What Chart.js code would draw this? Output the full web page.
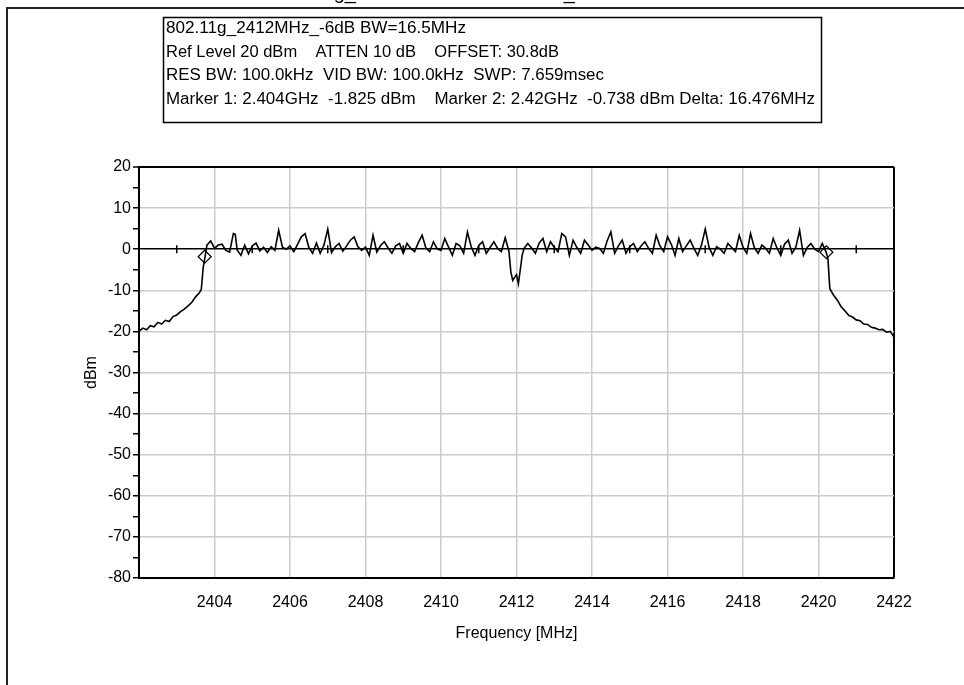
<!DOCTYPE html>
<html>
<head>
<meta charset="utf-8">
<script src="https://cdn.jsdelivr.net/npm/chart.js@4.4.0/dist/chart.umd.min.js"></script>
<style>
  body { margin: 0; background: #fff; }
  #wrap { width: 964px; height: 685px; }
</style>
</head>
<body>
<div id="wrap"><canvas id="myChart" width="964" height="685"></canvas></div>
<script>
// spectrum trace (MHz / dBm)
var freqMHz = [
  2402.0, 2402.1, 2402.2, 2402.3, 2402.4, 2402.5, 2402.6, 2402.7, 2402.8, 2402.9,
  2403.0, 2403.1, 2403.2, 2403.3, 2403.4, 2403.5, 2403.6, 2403.65, 2403.7, 2403.75, 2403.8, 2403.9,
  2404.0, 2404.1, 2404.2, 2404.3, 2404.4, 2404.5, 2404.55, 2404.6, 2404.7, 2404.8, 2404.9,
  2405.0, 2405.1, 2405.2, 2405.3, 2405.4, 2405.5, 2405.6, 2405.7, 2405.8, 2405.9,
  2406.0, 2406.1, 2406.2, 2406.3, 2406.4, 2406.5, 2406.6, 2406.7, 2406.8, 2406.9,
  2407.0, 2407.1, 2407.2, 2407.3, 2407.4, 2407.5, 2407.6, 2407.7, 2407.8, 2407.9,
  2408.0, 2408.1, 2408.2, 2408.3, 2408.4, 2408.5, 2408.6, 2408.7, 2408.8, 2408.9,
  2409.0, 2409.1, 2409.2, 2409.3, 2409.4, 2409.5, 2409.6, 2409.7, 2409.8, 2409.9,
  2410.0, 2410.1, 2410.2, 2410.3, 2410.4, 2410.5, 2410.6, 2410.7, 2410.8, 2410.9,
  2411.0, 2411.1, 2411.2, 2411.3, 2411.4, 2411.5, 2411.6, 2411.7, 2411.8, 2411.85, 2411.9,
  2412.0, 2412.05, 2412.1, 2412.15, 2412.2, 2412.3, 2412.4, 2412.5, 2412.6, 2412.7, 2412.8, 2412.9,
  2413.0, 2413.1, 2413.2, 2413.3, 2413.4, 2413.5, 2413.6, 2413.7, 2413.8, 2413.9,
  2414.0, 2414.1, 2414.2, 2414.3, 2414.4, 2414.5, 2414.6, 2414.7, 2414.8, 2414.9,
  2415.0, 2415.1, 2415.2, 2415.3, 2415.4, 2415.5, 2415.6, 2415.7, 2415.8, 2415.9,
  2416.0, 2416.1, 2416.2, 2416.3, 2416.4, 2416.5, 2416.6, 2416.7, 2416.8, 2416.9,
  2417.0, 2417.1, 2417.2, 2417.3, 2417.4, 2417.5, 2417.6, 2417.7, 2417.8, 2417.9,
  2418.0, 2418.1, 2418.2, 2418.3, 2418.4, 2418.5, 2418.6, 2418.7, 2418.8, 2418.9,
  2419.0, 2419.1, 2419.2, 2419.3, 2419.4, 2419.5, 2419.6, 2419.7, 2419.8, 2419.9,
  2420.0, 2420.1, 2420.2, 2420.25, 2420.3, 2420.4, 2420.5, 2420.6, 2420.7, 2420.8, 2420.9,
  2421.0, 2421.1, 2421.2, 2421.3, 2421.4, 2421.5, 2421.6, 2421.7, 2421.8, 2421.9,
  2422.0
];
var levelDbm = [
  -20.0, -19.2, -19.6, -18.6, -18.9, -17.8, -18.2, -17.3, -17.6, -16.4,
  -16.0, -15.2, -14.6, -13.8, -12.9, -11.6, -10.6, -9.8, -4.5, -1.8, 1.0, 2.0,
  0.2, 1.0, 1.2, -0.3, -0.7, 3.8, 3.6, -0.2, -1.5, 1.0, -1.1,
  0.8, 1.5, -0.4, 0.5, -0.8, 0.6, -0.3, 4.6, 0.5, 0.0,
  0.8, -0.6, 1.2, 3.0, 3.8, 0.4, -1.0, 1.5, -1.0, 1.0,
  4.9, -0.8, 0.6, 1.4, -0.5, 0.8, 2.2, 3.0, 0.6, -0.3,
  0.5, -1.5, 3.4, -0.7, 0.9, 1.8, 0.3, -1.0, 0.8, 1.4,
  -1.0, 1.4, 0.2, -0.6, 1.6, 3.4, 0.3, -0.6, 1.8, 0.1,
  -0.3, 2.6, 0.5, -1.5, 1.4, 0.8, -1.0, 4.2, 0.6, -1.5,
  0.9, 1.8, -1.0, 0.4, 1.8, 0.2, -0.6, 2.8, -0.5, -5.5, -7.6,
  -6.2, -8.4, -5.0, -1.5, 0.2, 1.4, 0.3, -1.0, 1.5, 2.6, -0.6, 1.8,
  0.5, -0.6, 3.8, 3.0, -1.5, 2.2, 0.4, -1.0, 2.2, 1.0,
  -0.3, 0.5, 0.2, -1.0, 2.0, 4.2, -1.0, 0.8, 2.2, -1.0,
  0.6, 1.4, -0.6, 0.8, 1.8, 0.2, -1.0, 3.4, 0.8, -0.6,
  3.0, 1.2, -1.5, 2.6, -0.6, 0.8, 2.2, 0.2, -1.5, 1.0,
  4.9, 0.5, -1.5, 0.6, 0.0, -1.0, 1.4, 0.4, -0.6, 3.4,
  0.5, -1.0, 3.8, 0.4, -1.0, 1.0, 0.2, -1.0, 2.6, 0.3,
  -1.5, 1.2, 2.2, -1.0, 0.5, 4.6, -1.5, 0.4, 1.4, 0.0,
  -0.6, 1.4, -0.7, -2.3, -9.6, -11.2, -12.4, -14.0, -15.0, -16.1, -16.5,
  -17.2, -17.4, -18.2, -18.3, -19.0, -19.2, -19.6, -19.5, -20.2, -20.0,
  -21.4
];

// the two -6 dB markers
var markerFreq = [2403.74, 2420.21];
var markerLevel = [-1.825, -0.738];

// axis
var xMin = 2402, xMax = 2422, xStep = 2;
var yMin = -80, yMax = 20, yStep = 5;

// header box text, one string per line
var infoLines = [
  '802.11g_2412MHz_-6dB BW=16.5MHz',
  'Ref Level 20 dBm    ATTEN 10 dB    OFFSET: 30.8dB',
  'RES BW: 100.0kHz  VID BW: 100.0kHz  SWP: 7.659msec',
  'Marker 1: 2.404GHz  -1.825 dBm    Marker 2: 2.42GHz  -0.738 dBm Delta: 16.476MHz'
];
var infoY = [29, 53, 76, 100];
var infoW = [300, 393, 438, 649];
var pageTitle = '802.11g_Low Channel 2412MHz_6dB Bandwidth';

var FONT = 'Arial, "Liberation Sans", sans-serif';

var tracePts = freqMHz.map(function (f, i) { return { x: f, y: levelDbm[i] }; });
var markerPts = markerFreq.map(function (f, i) { return { x: f, y: markerLevel[i] }; });

var framePlugin = {
  id: 'frame',
  beforeDraw: function (chart) {
    var ctx = chart.ctx;
    ctx.save();
    ctx.fillStyle = '#fff';
    ctx.fillRect(0, 0, chart.width, chart.height);

    // title, mostly cut off by the top edge
    ctx.fillStyle = '#000';
    ctx.font = '20px ' + FONT;
    ctx.textBaseline = 'alphabetic';
    ctx.fillText(pageTitle, 274, -1);

    // outer frame
    ctx.strokeStyle = '#222';
    ctx.lineWidth = 2;
    ctx.beginPath();
    ctx.moveTo(7, 685);
    ctx.lineTo(7, 8);
    ctx.lineTo(964, 8);
    ctx.stroke();

    // info box
    ctx.lineWidth = 1.5;
    ctx.strokeStyle = '#000';
    ctx.strokeRect(163.5, 17.5, 658, 105);
    ctx.font = '16px ' + FONT;
    ctx.textBaseline = 'middle';
    infoLines.forEach(function (txt, i) {
      var w = ctx.measureText(txt).width;
      ctx.save();
      ctx.translate(166, infoY[i]);
      ctx.scale(infoW[i] / w, 1);
      ctx.fillText(txt, 0, 0);
      ctx.restore();
    });
    ctx.restore();
  },
  beforeDatasetsDraw: function (chart) {
    // small ticks on the 0 dBm line at odd MHz
    var ctx = chart.ctx;
    var xs = chart.scales.x, ys = chart.scales.y;
    var y0 = ys.getPixelForValue(0);
    ctx.save();
    ctx.strokeStyle = '#000';
    ctx.lineWidth = 1.5;
    ctx.beginPath();
    for (var f = xMin + 1; f < xMax; f += 2) {
      var px = xs.getPixelForValue(f);
      ctx.moveTo(px, y0 - 4);
      ctx.lineTo(px, y0 + 4);
    }
    ctx.stroke();
    ctx.restore();
  }
};

var ctx = document.getElementById('myChart').getContext('2d');
var myChart = new Chart(ctx, {
  type: 'line',
  data: {
    datasets: [{
      label: 'Trace',
      data: tracePts,
      borderColor: '#000',
      borderWidth: 1.6,
      pointRadius: 0,
      tension: 0,
      fill: false
    }, {
      label: 'Markers',
      data: markerPts,
      showLine: false,
      pointStyle: 'rectRot',
      pointRadius: 6.5,
      pointBorderColor: '#000',
      pointBackgroundColor: 'rgba(0,0,0,0)',
      pointBorderWidth: 1.2
    }]
  },
  options: {
    responsive: false,
    animation: false,
    layout: { padding: { left: 0, right: 70, top: 167, bottom: 0 } },
    plugins: { legend: { display: false }, tooltip: { enabled: false } },
    scales: {
      x: {
        type: 'linear',
        min: xMin,
        max: xMax,
        afterFit: function (s) { s.height = 107; },
        ticks: {
          stepSize: xStep,
          autoSkip: false,
          maxRotation: 0,
          color: '#000',
          padding: 15,
          font: { family: FONT, size: 16 },
          callback: function (v) { return v === xMin ? '' : String(v); }
        },
        grid: {
          drawTicks: false,
          color: function (c) { return c.tick && c.tick.value === xMax ? '#000' : '#cccccc'; },
          lineWidth: function (c) { return c.tick && c.tick.value === xMax ? 2 : 1.5; }
        },
        border: { color: '#000', width: 2 },
        title: {
          display: true,
          text: 'Frequency [MHz]',
          color: '#000',
          font: { family: FONT, size: 16 },
          padding: { top: 0, bottom: 42 }
        }
      },
      y: {
        min: yMin,
        max: yMax,
        afterFit: function (s) { s.width = 139; },
        ticks: {
          stepSize: yStep,
          autoSkip: false,
          color: '#000',
          padding: 2,
          font: { family: FONT, size: 16 },
          callback: function (v) { return v % 10 === 0 ? String(v) : ''; }
        },
        grid: {
          tickLength: 6,
          tickColor: '#000',
          tickWidth: 1.5,
          color: function (c) {
            if (!c.tick) return '#cccccc';
            var v = c.tick.value;
            if (v === 0 || v === yMax) return '#000';
            return v % 10 === 0 ? '#cccccc' : 'rgba(0,0,0,0)';
          },
          lineWidth: function (c) { return c.tick && c.tick.value === yMax ? 2 : 1.5; }
        },
        border: { color: '#000', width: 2 },
        title: {
          display: true,
          text: 'dBm',
          color: '#000',
          font: { family: FONT, size: 16 },
          padding: { top: 82, bottom: 0 }
        }
      }
    }
  },
  plugins: [framePlugin]
});
</script>
</body>
</html>
